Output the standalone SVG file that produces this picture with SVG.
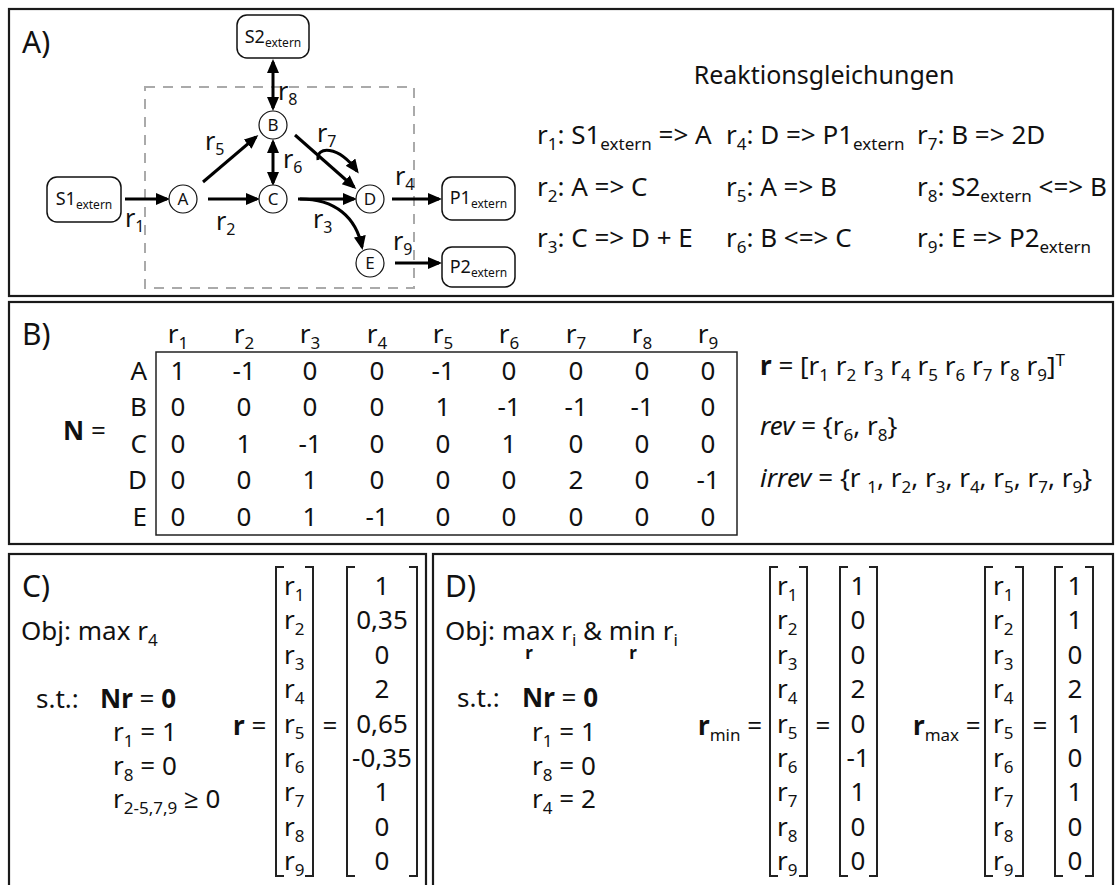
<svg xmlns="http://www.w3.org/2000/svg" width="1116" height="885" viewBox="0 0 1116 885">
<defs>
<style>
text{font-family:"Noto Sans","Open Sans",sans-serif;fill:#111;font-size:26px}
.s{font-size:17px}
.pl{font-size:30px}
.nl{font-size:25px}
.ns{font-size:16px}
.nd{font-size:17px}
.bt{font-size:18px}
.bs{font-size:12px}
.bx{fill:#fff;stroke:#111;stroke-width:1.5}
.cn{fill:#fff;stroke:#111;stroke-width:1.2}
.panel{fill:none;stroke:#1a1a1a;stroke-width:2.2}
.ar{fill:none;stroke:#000;stroke-width:3}
.br{fill:none;stroke:#222;stroke-width:2}
.b{font-weight:bold}
.i{font-style:italic}
.m{text-anchor:middle}
.e{text-anchor:end}
</style>
<marker id="ah" markerUnits="userSpaceOnUse" markerWidth="16" markerHeight="14" refX="11" refY="6" orient="auto-start-reverse" viewBox="0 0 16 14"><path d="M0,0 L14,6 L0,12 z" fill="#000"/></marker>
</defs>
<rect width="1116" height="885" fill="#fff"/>
<g id="panels">
<rect class="panel" x="9" y="9" width="1104" height="287"/>
<rect class="panel" x="9" y="302" width="1104" height="242"/>
<rect class="panel" x="9" y="554" width="417" height="345"/>
<rect class="panel" x="433" y="554" width="680" height="345"/>
</g>
<g id="panelA">
<text class="pl" x="22" y="53">A)</text>
<rect x="145" y="87" width="269" height="201" fill="none" stroke="#aaa" stroke-width="2" stroke-dasharray="10 8"/>
<g id="connectors">
<path class="ar" d="M125,199 L167,199" marker-end="url(#ah)"/>
<path class="ar" d="M208,199 L257,199" marker-end="url(#ah)"/>
<path class="ar" d="M203,182 L256,137" marker-end="url(#ah)"/>
<path class="ar" d="M273,62 L273,108" marker-start="url(#ah)" marker-end="url(#ah)"/>
<path class="ar" d="M273,142 L273,183" marker-start="url(#ah)" marker-end="url(#ah)"/>
<path class="ar" d="M295,135 L354,187" marker-end="url(#ah)"/>
<path class="ar" d="M318,160 C316,146 338,145 357,171" marker-end="url(#ah)"/>
<path class="ar" d="M298,199 L354,199" marker-end="url(#ah)"/>
<path class="ar" d="M300,199 C335,199 356,217 362,247" marker-end="url(#ah)"/>
<path class="ar" d="M392,199 L439,199" marker-end="url(#ah)"/>
<path class="ar" d="M395,263 L439,263" marker-end="url(#ah)"/>
</g>
<g id="node-S2"><rect class="bx" x="237" y="15" width="72" height="43" rx="10"/><text class="bt m" x="273" y="43">S2<tspan class="bs" dy="4">extern</tspan></text></g>
<g id="node-S1"><rect class="bx" x="47" y="177" width="74" height="45" rx="10"/><text class="bt m" x="84" y="205">S1<tspan class="bs" dy="4">extern</tspan></text></g>
<g id="node-P1"><rect class="bx" x="442" y="177" width="73" height="43" rx="10"/><text class="bt m" x="478.5" y="204">P1<tspan class="bs" dy="4">extern</tspan></text></g>
<g id="node-P2"><rect class="bx" x="442" y="247" width="73" height="40" rx="10"/><text class="bt m" x="478.5" y="273">P2<tspan class="bs" dy="4">extern</tspan></text></g>
<g id="node-A"><circle class="cn" cx="183" cy="199" r="14"/><text class="nd m" x="183" y="205">A</text></g>
<g id="node-B"><circle class="cn" cx="273" cy="125" r="14"/><text class="nd m" x="273" y="131">B</text></g>
<g id="node-C"><circle class="cn" cx="273" cy="199" r="14"/><text class="nd m" x="273" y="205">C</text></g>
<g id="node-D"><circle class="cn" cx="370" cy="199" r="14"/><text class="nd m" x="370" y="205">D</text></g>
<g id="node-E"><circle class="cn" cx="370" cy="263" r="14"/><text class="nd m" x="370" y="269">E</text></g>
<g id="edge-labels">
<text class="nl" x="278" y="100">r<tspan class="ns" dy="5">8</tspan></text>
<text class="nl" x="205" y="150">r<tspan class="ns" dy="5">5</tspan></text>
<text class="nl" x="283" y="168">r<tspan class="ns" dy="5">6</tspan></text>
<text class="nl" x="317" y="142">r<tspan class="ns" dy="5">7</tspan></text>
<text class="nl" x="125" y="227">r<tspan class="ns" dy="5">1</tspan></text>
<text class="nl" x="216" y="230">r<tspan class="ns" dy="5">2</tspan></text>
<text class="nl" x="395" y="185">r<tspan class="ns" dy="5">4</tspan></text>
<text class="nl" x="313" y="228">r<tspan class="ns" dy="5">3</tspan></text>
<text class="nl" x="393" y="250">r<tspan class="ns" dy="5">9</tspan></text>
</g>
<g id="reactions">
<text class="m" x="824" y="84" style="font-size:25px">Reaktionsgleichungen</text>
<text x="537" y="144">r<tspan class="s" dy="6">1</tspan><tspan dy="-6">: S1</tspan><tspan class="s" dy="6">extern</tspan><tspan dy="-6"> =&gt; A</tspan></text>
<text x="726" y="144">r<tspan class="s" dy="6">4</tspan><tspan dy="-6">: D =&gt; P1</tspan><tspan class="s" dy="6">extern</tspan></text>
<text x="917" y="144">r<tspan class="s" dy="6">7</tspan><tspan dy="-6">: B =&gt; 2D</tspan></text>
<text x="537" y="196">r<tspan class="s" dy="6">2</tspan><tspan dy="-6">: A =&gt; C</tspan></text>
<text x="726" y="196">r<tspan class="s" dy="6">5</tspan><tspan dy="-6">: A =&gt; B</tspan></text>
<text x="917" y="196">r<tspan class="s" dy="6">8</tspan><tspan dy="-6">: S2</tspan><tspan class="s" dy="6">extern</tspan><tspan dy="-6"> &lt;=&gt; B</tspan></text>
<text x="537" y="247">r<tspan class="s" dy="6">3</tspan><tspan dy="-6">: C =&gt; D + E</tspan></text>
<text x="726" y="247">r<tspan class="s" dy="6">6</tspan><tspan dy="-6">: B &lt;=&gt; C</tspan></text>
<text x="917" y="247">r<tspan class="s" dy="6">9</tspan><tspan dy="-6">: E =&gt; P2</tspan><tspan class="s" dy="6">extern</tspan></text>
</g>
</g>
<g id="panelB">
<text class="pl" x="22" y="345">B)</text>
<g class="hdr">
<text class="m" x="178" y="343">r<tspan class="s" dy="6">1</tspan></text>
<text class="m" x="244" y="343">r<tspan class="s" dy="6">2</tspan></text>
<text class="m" x="310" y="343">r<tspan class="s" dy="6">3</tspan></text>
<text class="m" x="377" y="343">r<tspan class="s" dy="6">4</tspan></text>
<text class="m" x="443" y="343">r<tspan class="s" dy="6">5</tspan></text>
<text class="m" x="509" y="343">r<tspan class="s" dy="6">6</tspan></text>
<text class="m" x="576" y="343">r<tspan class="s" dy="6">7</tspan></text>
<text class="m" x="642" y="343">r<tspan class="s" dy="6">8</tspan></text>
<text class="m" x="708" y="343">r<tspan class="s" dy="6">9</tspan></text>
</g>
<rect x="156" y="352" width="581" height="183" fill="none" stroke="#222" stroke-width="1.5"/>
<text class="e" x="147" y="380">A</text>
<text class="e" x="147" y="416">B</text>
<text class="e" x="147" y="453">C</text>
<text class="e" x="147" y="489">D</text>
<text class="e" x="147" y="526">E</text>
<text x="63" y="440"><tspan class="b">N</tspan> =</text>
<g class="m">
<text class="m" y="380"><tspan x="178">1</tspan><tspan x="244">-1</tspan><tspan x="310">0</tspan><tspan x="377">0</tspan><tspan x="443">-1</tspan><tspan x="509">0</tspan><tspan x="576">0</tspan><tspan x="642">0</tspan><tspan x="708">0</tspan></text>
<text class="m" y="416"><tspan x="178">0</tspan><tspan x="244">0</tspan><tspan x="310">0</tspan><tspan x="377">0</tspan><tspan x="443">1</tspan><tspan x="509">-1</tspan><tspan x="576">-1</tspan><tspan x="642">-1</tspan><tspan x="708">0</tspan></text>
<text class="m" y="453"><tspan x="178">0</tspan><tspan x="244">1</tspan><tspan x="310">-1</tspan><tspan x="377">0</tspan><tspan x="443">0</tspan><tspan x="509">1</tspan><tspan x="576">0</tspan><tspan x="642">0</tspan><tspan x="708">0</tspan></text>
<text class="m" y="489"><tspan x="178">0</tspan><tspan x="244">0</tspan><tspan x="310">1</tspan><tspan x="377">0</tspan><tspan x="443">0</tspan><tspan x="509">0</tspan><tspan x="576">2</tspan><tspan x="642">0</tspan><tspan x="708">-1</tspan></text>
<text class="m" y="526"><tspan x="178">0</tspan><tspan x="244">0</tspan><tspan x="310">1</tspan><tspan x="377">-1</tspan><tspan x="443">0</tspan><tspan x="509">0</tspan><tspan x="576">0</tspan><tspan x="642">0</tspan><tspan x="708">0</tspan></text>
</g>
<text x="760" y="375"><tspan class="b">r</tspan> = [r<tspan class="s" dy="6">1</tspan><tspan dy="-6"> r</tspan><tspan class="s" dy="6">2</tspan><tspan dy="-6"> r</tspan><tspan class="s" dy="6">3</tspan><tspan dy="-6"> r</tspan><tspan class="s" dy="6">4</tspan><tspan dy="-6"> r</tspan><tspan class="s" dy="6">5</tspan><tspan dy="-6"> r</tspan><tspan class="s" dy="6">6</tspan><tspan dy="-6"> r</tspan><tspan class="s" dy="6">7</tspan><tspan dy="-6"> r</tspan><tspan class="s" dy="6">8</tspan><tspan dy="-6"> r</tspan><tspan class="s" dy="6">9</tspan><tspan dy="-6">]</tspan><tspan class="s" dy="-9">T</tspan></text>
<text x="760" y="435"><tspan class="i">rev</tspan> = {r<tspan class="s" dy="6">6</tspan><tspan dy="-6">, r</tspan><tspan class="s" dy="6">8</tspan><tspan dy="-6">}</tspan></text>
<text x="760" y="487"><tspan class="i">irrev</tspan> = {r <tspan class="s" dy="6">1</tspan><tspan dy="-6">, r</tspan><tspan class="s" dy="6">2</tspan><tspan dy="-6">, r</tspan><tspan class="s" dy="6">3</tspan><tspan dy="-6">, r</tspan><tspan class="s" dy="6">4</tspan><tspan dy="-6">, r</tspan><tspan class="s" dy="6">5</tspan><tspan dy="-6">, r</tspan><tspan class="s" dy="6">7</tspan><tspan dy="-6">, r</tspan><tspan class="s" dy="6">9</tspan><tspan dy="-6">}</tspan></text>
</g>
<g id="panelC">
<text class="pl" x="22" y="597">C)</text>
<text x="21" y="640">Obj: max r<tspan class="s" dy="6">4</tspan></text>
<text x="36" y="708">s.t.:</text>
<text x="100" y="708"><tspan class="b">Nr</tspan> = <tspan class="b">0</tspan></text>
<text x="113" y="741">r<tspan class="s" dy="6">1</tspan><tspan dy="-6"> = 1</tspan></text>
<text x="113" y="775">r<tspan class="s" dy="6">8</tspan><tspan dy="-6"> = 0</tspan></text>
<text x="113" y="808">r<tspan class="s" dy="6">2-5,7,9</tspan><tspan dy="-6"> ≥ 0</tspan></text>
<text x="233" y="735"><tspan class="b">r</tspan> =</text>
<path class="br" d="M284,567 H276 V876 H284 M305,567 H313 V876 H305"/>
<text x="284" y="595">r<tspan class="s" dy="6">1</tspan></text>
<text x="284" y="629">r<tspan class="s" dy="6">2</tspan></text>
<text x="284" y="664">r<tspan class="s" dy="6">3</tspan></text>
<text x="284" y="698">r<tspan class="s" dy="6">4</tspan></text>
<text x="284" y="733">r<tspan class="s" dy="6">5</tspan></text>
<text x="284" y="767">r<tspan class="s" dy="6">6</tspan></text>
<text x="284" y="801">r<tspan class="s" dy="6">7</tspan></text>
<text x="284" y="836">r<tspan class="s" dy="6">8</tspan></text>
<text x="284" y="870">r<tspan class="s" dy="6">9</tspan></text>
<text class="m" x="330" y="735">=</text>
<path class="br" d="M355,567 H347 V876 H355 M409,567 H417 V876 H409"/>
<text class="m"><tspan x="382" y="595">1</tspan><tspan x="382" y="629">0,35</tspan><tspan x="382" y="664">0</tspan><tspan x="382" y="698">2</tspan><tspan x="382" y="733">0,65</tspan><tspan x="382" y="767">-0,35</tspan><tspan x="382" y="801">1</tspan><tspan x="382" y="836">0</tspan><tspan x="382" y="870">0</tspan></text>
</g>
<g id="panelD">
<text class="pl" x="445" y="597">D)</text>
<text x="445" y="640">Obj: max r<tspan class="s" dy="6">i</tspan><tspan dy="-6"> &amp; min r</tspan><tspan class="s" dy="6">i</tspan></text>
<text class="s b m" x="529" y="659">r</text>
<text class="s b m" x="633" y="659">r</text>
<text x="457" y="707">s.t.:</text>
<text x="522" y="707"><tspan class="b">Nr</tspan> = <tspan class="b">0</tspan></text>
<text x="532" y="741">r<tspan class="s" dy="6">1</tspan><tspan dy="-6"> = 1</tspan></text>
<text x="532" y="775">r<tspan class="s" dy="6">8</tspan><tspan dy="-6"> = 0</tspan></text>
<text x="532" y="808">r<tspan class="s" dy="6">4</tspan><tspan dy="-6"> = 2</tspan></text>
<text x="698" y="735"><tspan class="b">r</tspan><tspan class="s" dy="6">min</tspan><tspan dy="-6"> =</tspan></text>
<path class="br" d="M778,567 H770 V876 H778 M799,567 H807 V876 H799"/>
<text x="777" y="595">r<tspan class="s" dy="6">1</tspan></text>
<text x="777" y="629">r<tspan class="s" dy="6">2</tspan></text>
<text x="777" y="664">r<tspan class="s" dy="6">3</tspan></text>
<text x="777" y="698">r<tspan class="s" dy="6">4</tspan></text>
<text x="777" y="733">r<tspan class="s" dy="6">5</tspan></text>
<text x="777" y="767">r<tspan class="s" dy="6">6</tspan></text>
<text x="777" y="801">r<tspan class="s" dy="6">7</tspan></text>
<text x="777" y="836">r<tspan class="s" dy="6">8</tspan></text>
<text x="777" y="870">r<tspan class="s" dy="6">9</tspan></text>
<text class="m" x="823" y="735">=</text>
<path class="br" d="M848,567 H840 V876 H848 M869,567 H877 V876 H869"/>
<text class="m"><tspan x="858" y="595">1</tspan><tspan x="858" y="629">0</tspan><tspan x="858" y="664">0</tspan><tspan x="858" y="698">2</tspan><tspan x="858" y="733">0</tspan><tspan x="858" y="767">-1</tspan><tspan x="858" y="801">1</tspan><tspan x="858" y="836">0</tspan><tspan x="858" y="870">0</tspan></text>
<text x="913" y="735"><tspan class="b">r</tspan><tspan class="s" dy="6">max</tspan><tspan dy="-6"> =</tspan></text>
<path class="br" d="M993,567 H985 V876 H993 M1015,567 H1023 V876 H1015"/>
<text x="993" y="595">r<tspan class="s" dy="6">1</tspan></text>
<text x="993" y="629">r<tspan class="s" dy="6">2</tspan></text>
<text x="993" y="664">r<tspan class="s" dy="6">3</tspan></text>
<text x="993" y="698">r<tspan class="s" dy="6">4</tspan></text>
<text x="993" y="733">r<tspan class="s" dy="6">5</tspan></text>
<text x="993" y="767">r<tspan class="s" dy="6">6</tspan></text>
<text x="993" y="801">r<tspan class="s" dy="6">7</tspan></text>
<text x="993" y="836">r<tspan class="s" dy="6">8</tspan></text>
<text x="993" y="870">r<tspan class="s" dy="6">9</tspan></text>
<text class="m" x="1040" y="735">=</text>
<path class="br" d="M1063,567 H1055 V876 H1063 M1085,567 H1093 V876 H1085"/>
<text class="m"><tspan x="1075" y="595">1</tspan><tspan x="1075" y="629">1</tspan><tspan x="1075" y="664">0</tspan><tspan x="1075" y="698">2</tspan><tspan x="1075" y="733">1</tspan><tspan x="1075" y="767">0</tspan><tspan x="1075" y="801">1</tspan><tspan x="1075" y="836">0</tspan><tspan x="1075" y="870">0</tspan></text>
</g>
</svg>
